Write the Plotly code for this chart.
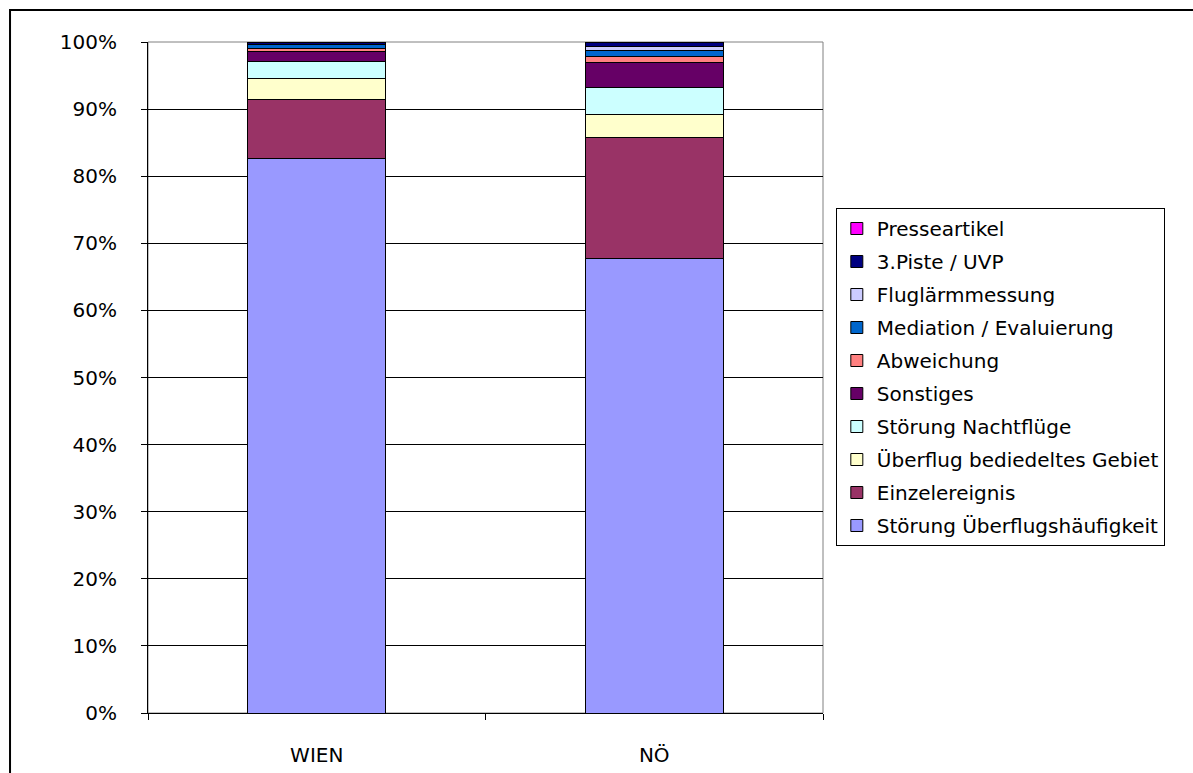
import plotly.graph_objects as go

categories = ["WIEN", "NÖ"]

series_names = [
    "Störung Überflugshäufigkeit",
    "Einzelereignis",
    "Überflug bediedeltes Gebiet",
    "Störung Nachtflüge",
    "Sonstiges",
    "Abweichung",
    "Mediation / Evaluierung",
    "Fluglärmmessung",
    "3.Piste / UVP",
    "Presseartikel",
]

stoerung_ueberflug = [82.6, 67.7]
einzelereignis = [8.9, 18.0]
ueberflug_gebiet = [3.1, 3.5]
stoerung_nacht = [2.5, 4.0]
sonstiges = [1.5, 3.8]
abweichung = [0.5, 0.9]
mediation = [0.5, 0.9]
fluglaerm = [0.0, 0.5]
piste3 = [0.3, 0.7]
presse = [0.1, 0.0]

series_values = [stoerung_ueberflug, einzelereignis, ueberflug_gebiet, stoerung_nacht,
                 sonstiges, abweichung, mediation, fluglaerm, piste3, presse]

colors = ["#9999FF", "#993366", "#FFFFCC", "#CCFFFF", "#660066",
          "#FF8080", "#0066CC", "#CCCCFF", "#000080", "#FF00FF"]

y_ticks = [0, 10, 20, 30, 40, 50, 60, 70, 80, 90, 100]
y_tick_labels = ["0%", "10%", "20%", "30%", "40%", "50%", "60%", "70%", "80%", "90%", "100%"]

fig = go.Figure()
n = len(series_names)
for i, (name, vals, col) in enumerate(zip(series_names, series_values, colors)):
    fig.add_trace(go.Bar(
        x=categories, y=vals, name=name,
        marker=dict(color=col, line=dict(color="#000000", width=1)),
        legendgroup=f"g{i}",
        legendrank=n - i,
        width=0.41,
    ))

font_family = "DejaVu Sans, Verdana, sans-serif"

fig.update_layout(
    barmode="stack",
    width=1193, height=773,
    margin=dict(l=148, r=370, t=42, b=60),
    paper_bgcolor="white",
    plot_bgcolor="white",
    font=dict(family=font_family, size=18, color="#000000"),
    showlegend=True,
    legend=dict(
        x=1.019, y=0.7526, xanchor="left", yanchor="top",
        traceorder="grouped",
        tracegroupgap=4,
        itemwidth=30,
        bordercolor="#000000", borderwidth=1,
        bgcolor="white",
        font=dict(family=font_family, size=20, color="#000000"),
    ),
    xaxis=dict(
        showline=True, linecolor="#000000", linewidth=1,
        ticks="outside", tickson="boundaries", ticklen=6, tickcolor="#000000",
        showgrid=False, mirror=False,
        automargin=False,
        ticklabelstandoff=24,
        tickfont=dict(size=20),
    ),
    yaxis=dict(
        range=[0, 100],
        tickvals=y_ticks, ticktext=y_tick_labels,
        showline=True, linecolor="#000000", linewidth=1,
        ticks="outside", ticklen=6, tickcolor="#000000",
        showgrid=True, gridcolor="#000000", gridwidth=1,
        zeroline=False,
        automargin=False,
        ticklabelstandoff=20,
        tickfont=dict(size=20),
    ),
    shapes=[
        dict(type="rect", xref="paper", yref="paper", x0=0, x1=1, y0=0, y1=1,
             line=dict(color="#808080", width=1), layer="below"),
        dict(type="rect", xref="paper", yref="paper",
             x0=-0.2044, x1=1.58, y0=-0.12, y1=1.0477,
             line=dict(color="#000000", width=2)),
    ],
)

fig.write_html("out.html")
